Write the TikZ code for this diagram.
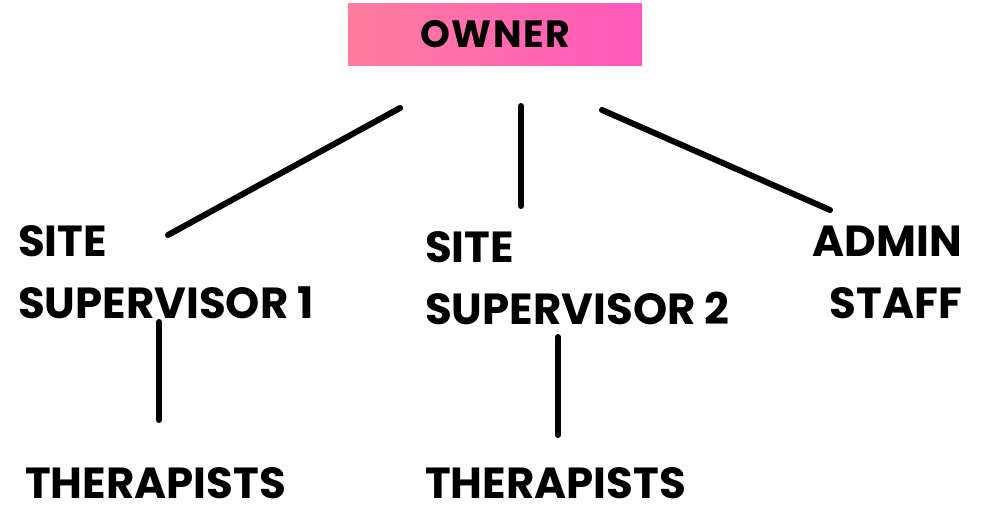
\documentclass[tikz,border=0pt]{standalone}
\usepackage{fontspec}
\setmainfont{Poppins}[BoldFont={Poppins Bold}]
\newfontfamily\ownerfont{Poppins Bold}[LetterSpace=4]
\definecolor{gA}{RGB}{255,138,148}
\definecolor{gB}{RGB}{255,86,190}
\definecolor{gC}{RGB}{255,104,172}
\pgfdeclarehorizontalshading{ownershade}{100bp}{color(0bp)=(gA); color(8bp)=(gA); color(78bp)=(gB); color(100bp)=(gC)}
\tikzset{
  lbl/.style={inner sep=0pt, font=\fontsize{43.5}{62}\selectfont\bfseries, text=black},
  link/.style={line width=6pt, line cap=round, black},
}
\begin{document}
\begin{tikzpicture}[x=1pt,y=-1pt]
\useasboundingbox (0,0) rectangle (982,506);
\node[minimum width=294pt, minimum height=62pt, inner sep=0pt, shading=ownershade, anchor=north west,
  font=\fontsize{38}{40}\ownerfont] (owner) at (348,3) {OWNER};
\node[lbl, anchor=north west, align=left] (ss1) at (18,225) {SITE\\SUPERVISOR 1};
\node[lbl, anchor=north west, align=left] (ss2) at (425,231) {SITE\\SUPERVISOR 2};
\node[lbl, anchor=north east, align=right] (admin) at (962,226) {ADMIN\\STAFF};
\node[lbl, anchor=north west] (th1) at (25,467) {THERAPISTS};
\node[lbl, anchor=north west] (th2) at (425,467) {THERAPISTS};
\coordinate (o1) at (400,108);
\coordinate (o2) at (521,106);
\coordinate (o3) at (602,110);
\coordinate (s1t) at (168,235);
\coordinate (s2t) at (521,206);
\coordinate (at) at (830,210);
\coordinate (s1b) at (159,322);
\coordinate (t1t) at (159,420);
\coordinate (s2b) at (558,337);
\coordinate (t2t) at (558,435);
\draw[link] (o1) -- (s1t);
\draw[link] (o2) -- (s2t);
\draw[link] (o3) -- (at);
\draw[link] (s1b) -- (t1t);
\draw[link] (s2b) -- (t2t);
\end{tikzpicture}
\end{document}
